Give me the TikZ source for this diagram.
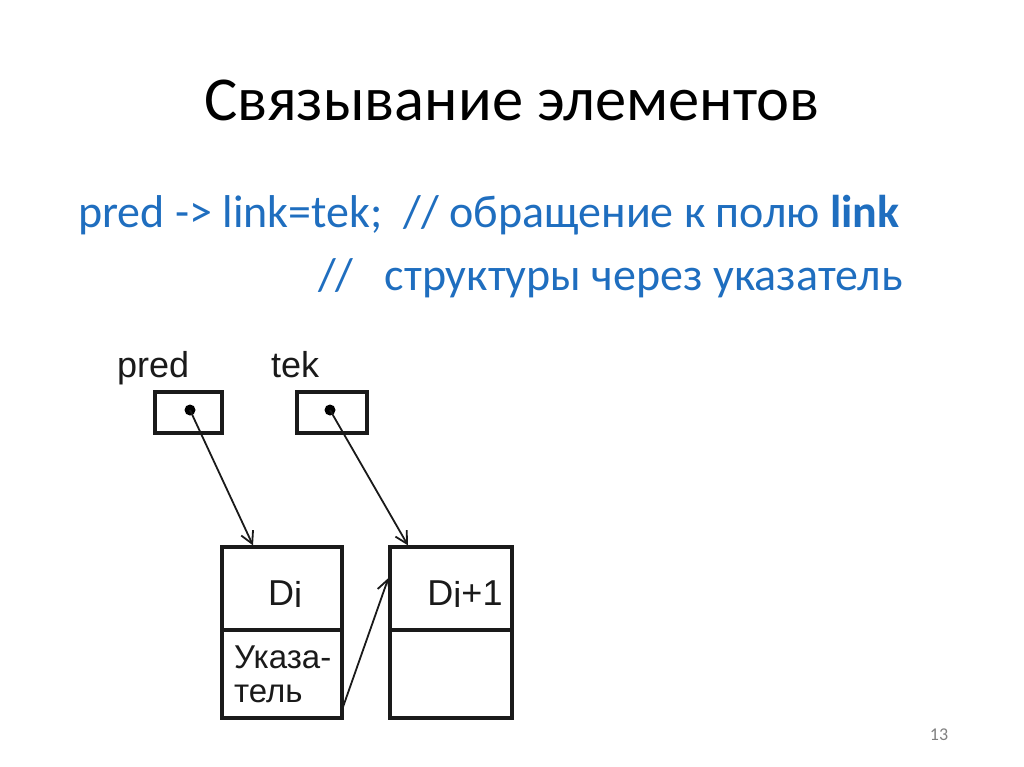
\documentclass[tikz,border=0pt]{standalone}
\usepackage{fontspec}
\setmainfont{Carlito}
\newfontfamily\diagfont{Liberation Sans}
\usetikzlibrary{arrows.meta}
\definecolor{slideblue}{HTML}{1F6EBF}
\definecolor{ink}{HTML}{1A1A1A}
\tikzset{
  titletext/.style={font=\fontsize{62.5}{70}\selectfont, text=black, inner sep=0pt},
  bodytext/.style={font=\fontsize{46}{52}\selectfont, text=slideblue, inner sep=0pt, anchor=base west},
  dtext/.style={font=\diagfont\fontsize{36}{40}\selectfont, text=ink, inner sep=0pt},
  smalldtext/.style={font=\diagfont\fontsize{33}{36}\selectfont, text=ink, inner sep=0pt},
  cell/.style={draw=ink, line width=3.2pt, inner sep=0pt},
  ptr/.style={draw=ink, line width=1.8pt, -{Straight Barb[length=12pt,width=13pt,line width=1.8pt]}},
  dot/.style={circle, fill=black, inner sep=0pt, minimum size=11pt},
}
\begin{document}
\begin{tikzpicture}[x=1pt,y=-1pt]
\useasboundingbox (0,0) rectangle (1024,767);
% title
\node[titletext] (title) at (512,100) {Связывание элементов};
% code text
\node[bodytext] (line1) at (78,228) {pred -> link=tek;\ \ // обращение к полю \textbf{link}};
\node[bodytext] (line2) at (318,290) {//\ \ \ структуры через указатель};
% diagram labels
\node[dtext, anchor=base west] (predl) at (117,377) {pred};
\node[dtext, anchor=base west] (tekl) at (271,377) {tek};
% pointer boxes
\node[cell, minimum width=67pt, minimum height=41pt] (predbox) at (188.5,412.5) {};
\node[cell, minimum width=70pt, minimum height=41pt] (tekbox) at (332,412.5) {};
\node[dot] (pdot) at (190,410) {};
\node[dot] (tdot) at (330,410) {};
% element boxes
\node[cell, minimum width=120pt, minimum height=83pt] (dtop) at (282,588.5) {};
\node[cell, minimum width=120pt, minimum height=88pt] (dbot) at (282,674) {};
\node[cell, minimum width=122pt, minimum height=83pt] (etop) at (451,588.5) {};
\node[cell, minimum width=122pt, minimum height=88pt] (ebot) at (451,674) {};
\node[dtext] (di) at (285,594) {D\raisebox{-2pt}{i}};
\node[dtext] (di1) at (465,594) {D\raisebox{-2pt}{i}+1};
\node[smalldtext, anchor=base west] (uk1) at (234,668) {Указа-};
\node[smalldtext, anchor=base west] (uk2) at (234,702) {тель};
\coordinate (lstart) at (343,707);
% connectors
\draw[ptr] (pdot.center) -- (dtop.north -| 253,0);
\draw[ptr] (tdot.center) -- (etop.north -| 408,0);
\draw[ptr] (lstart) -- (etop.west |- 0,578);
% page number
\node[font=\fontsize{18}{20}\selectfont, text=gray, inner sep=0pt] (pg) at (939,735) {13};
\end{tikzpicture}
\end{document}
